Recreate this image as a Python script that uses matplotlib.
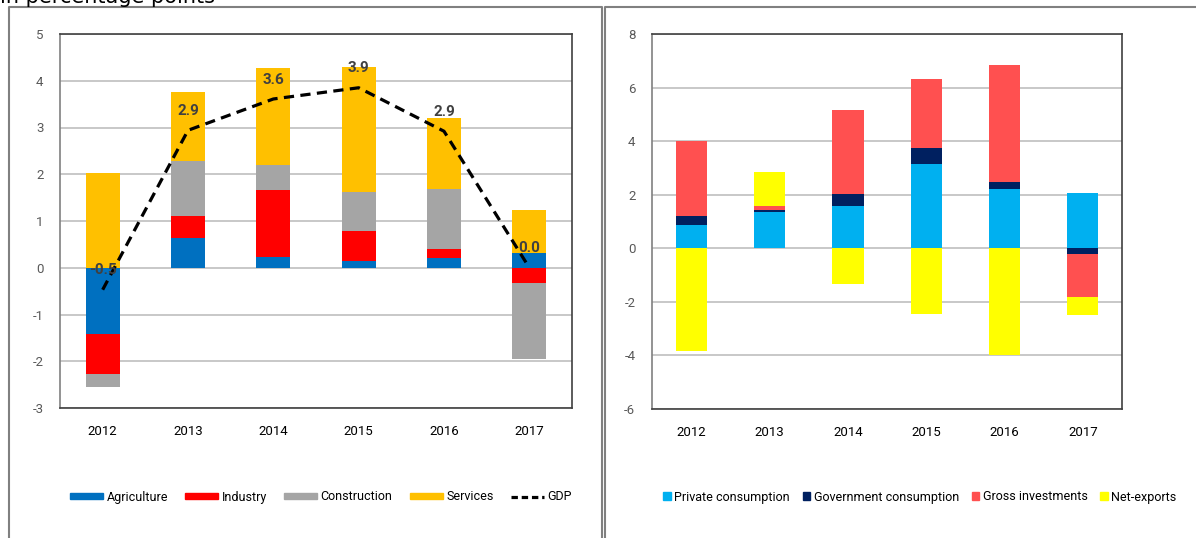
import numpy as np
import matplotlib
matplotlib.use('Agg')
import matplotlib.pyplot as plt
from matplotlib.lines import Line2D
from matplotlib.patches import Patch

plt.rcParams['font.family'] = ['Roboto', 'DejaVu Sans']
plt.rcParams['axes.unicode_minus'] = False

years = ['2012', '2013', '2014', '2015', '2016', '2017']

# левый график: вклад отраслей
agriculture = [-1.41, 0.63, 0.24, 0.14, 0.21, 0.31]
industry = [-0.87, 0.47, 1.42, 0.65, 0.20, -0.33]
construction = [-0.28, 1.19, 0.53, 0.83, 1.28, -1.62]
services = [2.03, 1.46, 2.08, 2.67, 1.52, 0.93]
gdp = [-0.47, 2.94, 3.61, 3.85, 2.92, 0.0]

# правый график: вклад компонентов спроса
private_cons = [0.86, 1.35, 1.58, 3.13, 2.20, 2.05]
gov_cons = [0.35, 0.07, 0.45, 0.61, 0.27, -0.22]
gross_inv = [2.78, 0.16, 3.14, 2.59, 4.36, -1.61]
net_exports = [-3.84, 1.28, -1.33, -2.46, -4.00, -0.67]

left_series = [('Agriculture', agriculture, '#0070C0'),
               ('Industry', industry, '#FF0000'),
               ('Construction', construction, '#A5A5A5'),
               ('Services', services, '#FFC000')]
right_series = [('Private consumption', private_cons, '#00B0F0'),
                ('Government consumption', gov_cons, '#002060'),
                ('Gross investments', gross_inv, '#FF5050'),
                ('Net-exports', net_exports, '#FFFF00')]

W, H = 1196, 538
fig = plt.figure(figsize=(W / 100, H / 100), dpi=100)


def stacked(ax, series, x):
    pos = np.zeros(len(x))
    neg = np.zeros(len(x))
    for name, vals, col in series:
        v = np.array(vals)
        bottom = np.where(v >= 0, pos, neg)
        ax.bar(x, v, 0.4, bottom=bottom, color=col, label=name, zorder=3)
        pos = pos + np.where(v >= 0, v, 0)
        neg = neg + np.where(v < 0, v, 0)


def style(ax, ylim, step):
    ax.set_xlim(-0.5, 5.5)
    ax.set_ylim(*ylim)
    ax.set_yticks(np.arange(ylim[0], ylim[1] + 0.1, step))
    ax.set_xticks(range(len(years)))
    ax.set_xticklabels(years)
    ax.yaxis.grid(True, color='#BFBFBF', lw=1.2, zorder=0)
    ax.tick_params(length=0, labelsize=9.5)
    ax.tick_params(axis='y', pad=12, labelcolor='#595959')
    ax.tick_params(axis='x', pad=12)
    for s in ax.spines.values():
        s.set_color('#404040')
        s.set_linewidth(1.2)
    ax.spines['left'].set_color('#808080')


# левая панель
ax1 = fig.add_axes([60 / W, 1 - 408 / H, 512 / W, 374 / H])
x = np.arange(len(years))
stacked(ax1, left_series, x)
ax1.plot(x, gdp, color='black', lw=2.3, ls=(0, (3.2, 2.0)), zorder=4, label='GDP')
for xi, g in zip(x, gdp):
    ax1.annotate(f'{g:.1f}', (xi, g), xytext=(0, 14), textcoords='offset points',
                 ha='center', va='center', fontsize=11, fontweight='bold',
                 color='#404040', zorder=5)
style(ax1, (-3, 5), 1)

# правая панель
ax2 = fig.add_axes([652 / W, 1 - 409 / H, 470 / W, 375 / H])
stacked(ax2, right_series, x)
style(ax2, (-6, 8), 2)

# легенды
h1 = [Patch(color=c, label=n) for n, _, c in left_series]
h1.append(Line2D([0], [0], color='black', lw=2.3, ls=(0, (2, 1.2)), label='GDP'))
fig.legend(handles=h1, loc='center', bbox_to_anchor=(321 / W, 1 - 497 / H), ncol=5,
           frameon=False, fontsize=9, handlelength=2.6, handleheight=0.45,
           handletextpad=0.3, columnspacing=1.4)

h2 = [Patch(color=c, label=n) for n, _, c in right_series]
fig.legend(handles=h2, loc='center', bbox_to_anchor=(920 / W, 1 - 497 / H), ncol=4,
           frameon=False, fontsize=9, handlelength=0.6, handleheight=0.6,
           handletextpad=0.3, columnspacing=1.0)

# рамки панелей
for xs, ys in [([9, 9, 602, 602], [538, 7, 7, 538]),
               ([605, 605, 1196], [538, 7, 7])]:
    fig.add_artist(Line2D([v / W for v in xs], [1 - v / H for v in ys],
                          color='#808080', lw=1.5))

fig.text(0.0, 1 - 3 / H, 'in percentage points', fontsize=15, va='baseline', ha='left',
         family='DejaVu Sans')

fig.savefig('out.png', dpi=100)
